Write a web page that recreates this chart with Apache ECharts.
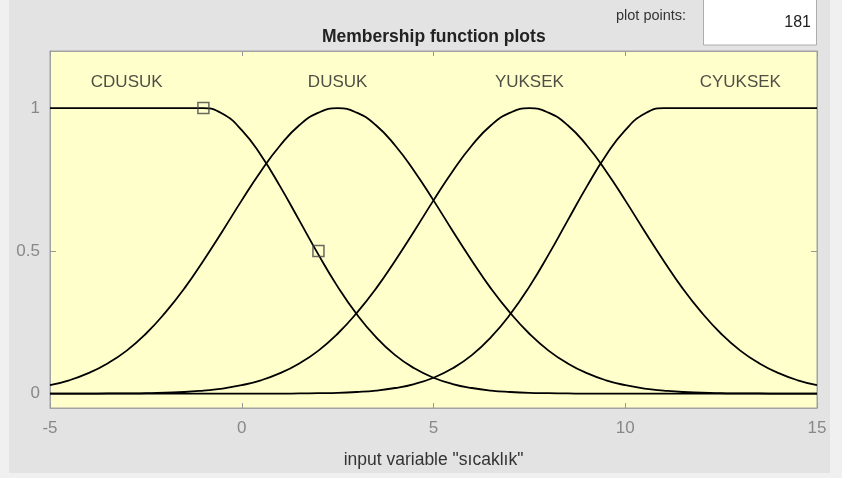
<!DOCTYPE html>
<html>
<head>
<meta charset="utf-8">
<script src="https://cdn.jsdelivr.net/npm/echarts@6/dist/echarts.min.js"></script>
<style>
	html, body { margin: 0; padding: 0; background: #f0f0f0; }
	#wrap { position: relative; width: 842px; height: 478px; }
	#panel { position: absolute; left: 9px; top: 0; width: 821px; height: 473px; background: #e3e3e3; }
	#chart { position: absolute; left: 0; top: 0; width: 842px; height: 478px; }
</style>
</head>
<body>
<div id="wrap">
	<div id="panel"></div>
	<div id="chart"></div>
</div>
<script>
	// input variable samples
	var xs = [-5, -4.5, -4, -3.5, -3, -2.5, -2, -1.5, -1, -0.5, 0, 0.5, 1, 1.5, 2, 2.5, 3, 3.5, 4, 4.5,
		5, 5.5, 6, 6.5, 7, 7.5, 8, 8.5, 9, 9.5, 10, 10.5, 11, 11.5, 12, 12.5, 13, 13.5, 14, 14.5, 15];

	// membership values
	var cdusuk = [1, 1, 1, 1, 1, 1, 1, 1, 1, 0.980, 0.923, 0.835, 0.726, 0.607, 0.487, 0.375, 0.278, 0.198, 0.135, 0.089,
		0.056, 0.034, 0.020, 0.011, 0.006, 0.003, 0.002, 0.001, 0, 0, 0, 0, 0, 0, 0, 0, 0, 0, 0, 0, 0];
	var dusuk = [0.030, 0.047, 0.072, 0.106, 0.151, 0.210, 0.283, 0.368, 0.466, 0.570, 0.677, 0.779, 0.869, 0.940, 0.984, 1, 0.984, 0.940, 0.869, 0.779,
		0.677, 0.570, 0.466, 0.368, 0.283, 0.210, 0.151, 0.106, 0.072, 0.047, 0.030, 0.018, 0.011, 0.006, 0.004, 0.002, 0.001, 0.001, 0, 0, 0];
	var yuksek = [0, 0, 0, 0.001, 0.001, 0.002, 0.004, 0.006, 0.011, 0.018, 0.030, 0.047, 0.072, 0.106, 0.151, 0.210, 0.283, 0.368, 0.466, 0.570,
		0.677, 0.779, 0.869, 0.940, 0.984, 1, 0.984, 0.940, 0.869, 0.779, 0.677, 0.570, 0.466, 0.368, 0.283, 0.210, 0.151, 0.106, 0.072, 0.047, 0.030];
	var cyuksek = [0, 0, 0, 0, 0, 0, 0, 0, 0, 0, 0, 0, 0, 0.001, 0.002, 0.003, 0.006, 0.011, 0.020, 0.034,
		0.056, 0.089, 0.135, 0.198, 0.278, 0.375, 0.487, 0.607, 0.726, 0.835, 0.923, 0.980, 1, 1, 1, 1, 1, 1, 1, 1, 1];

	// mf names and where they sit
	var mfNames = ['CDUSUK', 'DUSUK', 'YUKSEK', 'CYUKSEK'];
	var nameX = [-3, 2.5, 7.5, 13];
	var nameY = 1.09;

	// square handles of the selected mf
	var handles = [[-1, 1], [2, 0.5]];

	var yTicks = [0, 0.5, 1];

	function pairs(vals) {
		return xs.map(function (x, i) { return [x, vals[i]]; });
	}

	var font = '"Liberation Sans", Arial, sans-serif';
	var chart = echarts.init(document.getElementById('chart'));

	var lineStyle = { color: '#000', width: 1.8 };
	function mfSeries(name, vals) {
		return {
			name: name,
			type: 'line',
			data: pairs(vals),
			showSymbol: false,
			smooth: true,
			lineStyle: lineStyle,
			silent: true,
			z: 3
		};
	}

	var axisGray = '#a3a3a3';

	chart.setOption({
		animation: false,
		textStyle: { fontFamily: font },
		grid: {
			left: 50, right: 25, top: 51, bottom: 70,
			show: true,
			backgroundColor: '#ffffcc',
			borderColor: axisGray,
			borderWidth: 1
		},
		xAxis: [{
			type: 'value',
			min: -5, max: 15, interval: 5,
			position: 'bottom',
			axisLine: { show: true, onZero: false, lineStyle: { color: axisGray } },
			axisTick: { show: true, inside: true, length: 5, lineStyle: { color: '#999' } },
			axisLabel: { color: '#888', fontSize: 17, margin: 12, fontFamily: font },
			splitLine: { show: false },
			name: 'input variable "sıcaklık"',
			nameLocation: 'middle',
			nameGap: 43,
			nameTextStyle: { color: '#333', fontSize: 17.5, fontFamily: font }
		}, {
			type: 'value',
			min: -5, max: 15, interval: 5,
			position: 'top',
			axisLine: { show: true, onZero: false, lineStyle: { color: axisGray } },
			axisTick: { show: true, inside: true, length: 5, lineStyle: { color: '#999' } },
			axisLabel: { show: false },
			splitLine: { show: false }
		}],
		yAxis: [{
			type: 'value',
			min: -0.05, max: 1.2,
			position: 'left',
			axisLine: { show: true, onZero: false, lineStyle: { color: axisGray } },
			axisTick: { show: true, inside: true, length: 6, customValues: yTicks, lineStyle: { color: '#999' } },
			axisLabel: { color: '#888', fontSize: 17, margin: 10, customValues: yTicks, fontFamily: font },
			splitLine: { show: false }
		}, {
			type: 'value',
			min: -0.05, max: 1.2,
			position: 'right',
			axisLine: { show: true, onZero: false, lineStyle: { color: axisGray } },
			axisTick: { show: true, inside: true, length: 6, customValues: yTicks, lineStyle: { color: '#999' } },
			axisLabel: { show: false },
			splitLine: { show: false }
		}],
		series: [
			mfSeries('CDUSUK', cdusuk),
			mfSeries('DUSUK', dusuk),
			mfSeries('YUKSEK', yuksek),
			mfSeries('CYUKSEK', cyuksek),
			{
				type: 'scatter',
				data: handles,
				symbol: 'rect',
				symbolSize: 11,
				itemStyle: { color: 'rgba(0,0,0,0)', borderColor: '#444', borderWidth: 1.5 },
				silent: true,
				z: 4
			},
			{
				type: 'scatter',
				data: nameX.map(function (x) { return [x, nameY]; }),
				symbolSize: 0,
				label: {
					show: true,
					position: 'inside',
					formatter: function (p) { return mfNames[p.dataIndex]; },
					color: '#222',
					fontSize: 17,
					fontFamily: font
				},
				silent: true,
				z: 4
			}
		],
		graphic: [
			{
				type: 'text',
				left: 322, top: 28,
				style: { text: 'Membership function plots', font: 'bold 17.5px ' + font, fill: '#222' }
			},
			{
				type: 'text',
				left: 616, top: 8,
				style: { text: 'plot points:', font: '14.5px ' + font, fill: '#333' }
			},
			{
				type: 'rect',
				shape: { x: 703.5, y: -1, width: 113, height: 46 },
				style: { fill: '#fff', stroke: '#adadad', lineWidth: 1 }
			},
			{
				type: 'text',
				right: 842 - 811, top: 15,
				style: { text: '181', font: '16px ' + font, fill: '#222' }
			}
		]
	});
</script>
</body>
</html>
